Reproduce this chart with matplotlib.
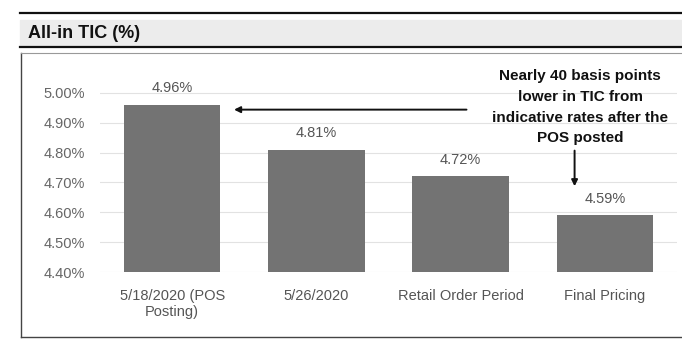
import matplotlib
matplotlib.use("Agg")
import matplotlib.pyplot as plt
from matplotlib.patches import Rectangle
from matplotlib.lines import Line2D

categories = ["5/18/2020 (POS\nPosting)", "5/26/2020", "Retail Order Period", "Final Pricing"]
tic = [4.96, 4.81, 4.72, 4.59]
yticks = [4.40, 4.50, 4.60, 4.70, 4.80, 4.90, 5.00]

plt.rcParams["font.family"] = ["Liberation Sans", "DejaVu Sans"]

fig = plt.figure(figsize=(6.82, 3.41), dpi=100)

# header band with rules above and below
fig.add_artist(Rectangle((20 / 682, 1 - 46 / 341), 662 / 682, 26 / 341,
                         transform=fig.transFigure, color="#ececec", zorder=0))
fig.add_artist(Line2D([20 / 682, 1], [1 - 12.5 / 341] * 2, transform=fig.transFigure,
                      color="#111111", lw=1.6))
fig.add_artist(Line2D([20 / 682, 1], [1 - 47 / 341] * 2, transform=fig.transFigure,
                      color="#111111", lw=1.6))
fig.text(28 / 682, 1 - 33 / 341, "All-in TIC (%)", fontsize=13, fontweight="bold",
         va="center", ha="left", color="#111111")

# chart frame (left, top, bottom)
fig.add_artist(Line2D([21 / 682, 21 / 682], [1 - 53 / 341, 1 - 337 / 341],
                      transform=fig.transFigure, color="#444444", lw=1.0))
fig.add_artist(Line2D([21 / 682, 1], [1 - 53 / 341] * 2,
                      transform=fig.transFigure, color="#999999", lw=0.8))
fig.add_artist(Line2D([21 / 682, 1], [1 - 337 / 341] * 2,
                      transform=fig.transFigure, color="#444444", lw=1.0))

ax = fig.add_axes([100 / 682, 1 - 272 / 341, 577 / 682, 194 / 341])
x = range(len(categories))
ax.bar(x, tic, width=0.67, color="#737373", zorder=2)
for xi, v in zip(x, tic):
    ax.text(xi, v + 0.032, f"{v:.2f}%", ha="center", va="bottom", fontsize=10.5, color="#555555")

ax.set_xlim(-0.5, 3.5)
ax.set_ylim(4.40, 5.05)
ax.set_yticks(yticks)
ax.set_yticklabels([f"{t:.2f}%" for t in yticks], fontsize=10.5, color="#666666")
ax.set_xticks(list(x))
ax.set_xticklabels(categories, fontsize=10.5, color="#555555", linespacing=1.25)
ax.tick_params(length=0, axis="y", pad=11)
ax.tick_params(length=0, axis="x", pad=12)
ax.grid(axis="y", color="#e2e2e2", lw=0.8, zorder=0)
for s in ax.spines.values():
    s.set_visible(False)

ax.text(2.83, 4.952, "Nearly 40 basis points\nlower in TIC from\nindicative rates after the\nPOS posted",
        ha="center", va="center", fontsize=11, fontweight="bold", color="#111111",
        linespacing=1.6, clip_on=False)
ax.annotate("", xy=(0.41, 4.944), xytext=(2.06, 4.944),
            arrowprops=dict(arrowstyle="-|>", color="#111111", lw=1.4, mutation_scale=9))
ax.annotate("", xy=(2.79, 4.678), xytext=(2.79, 4.816),
            arrowprops=dict(arrowstyle="-|>", color="#111111", lw=1.4, mutation_scale=9))

fig.savefig("out.png", dpi=100, facecolor="white")
